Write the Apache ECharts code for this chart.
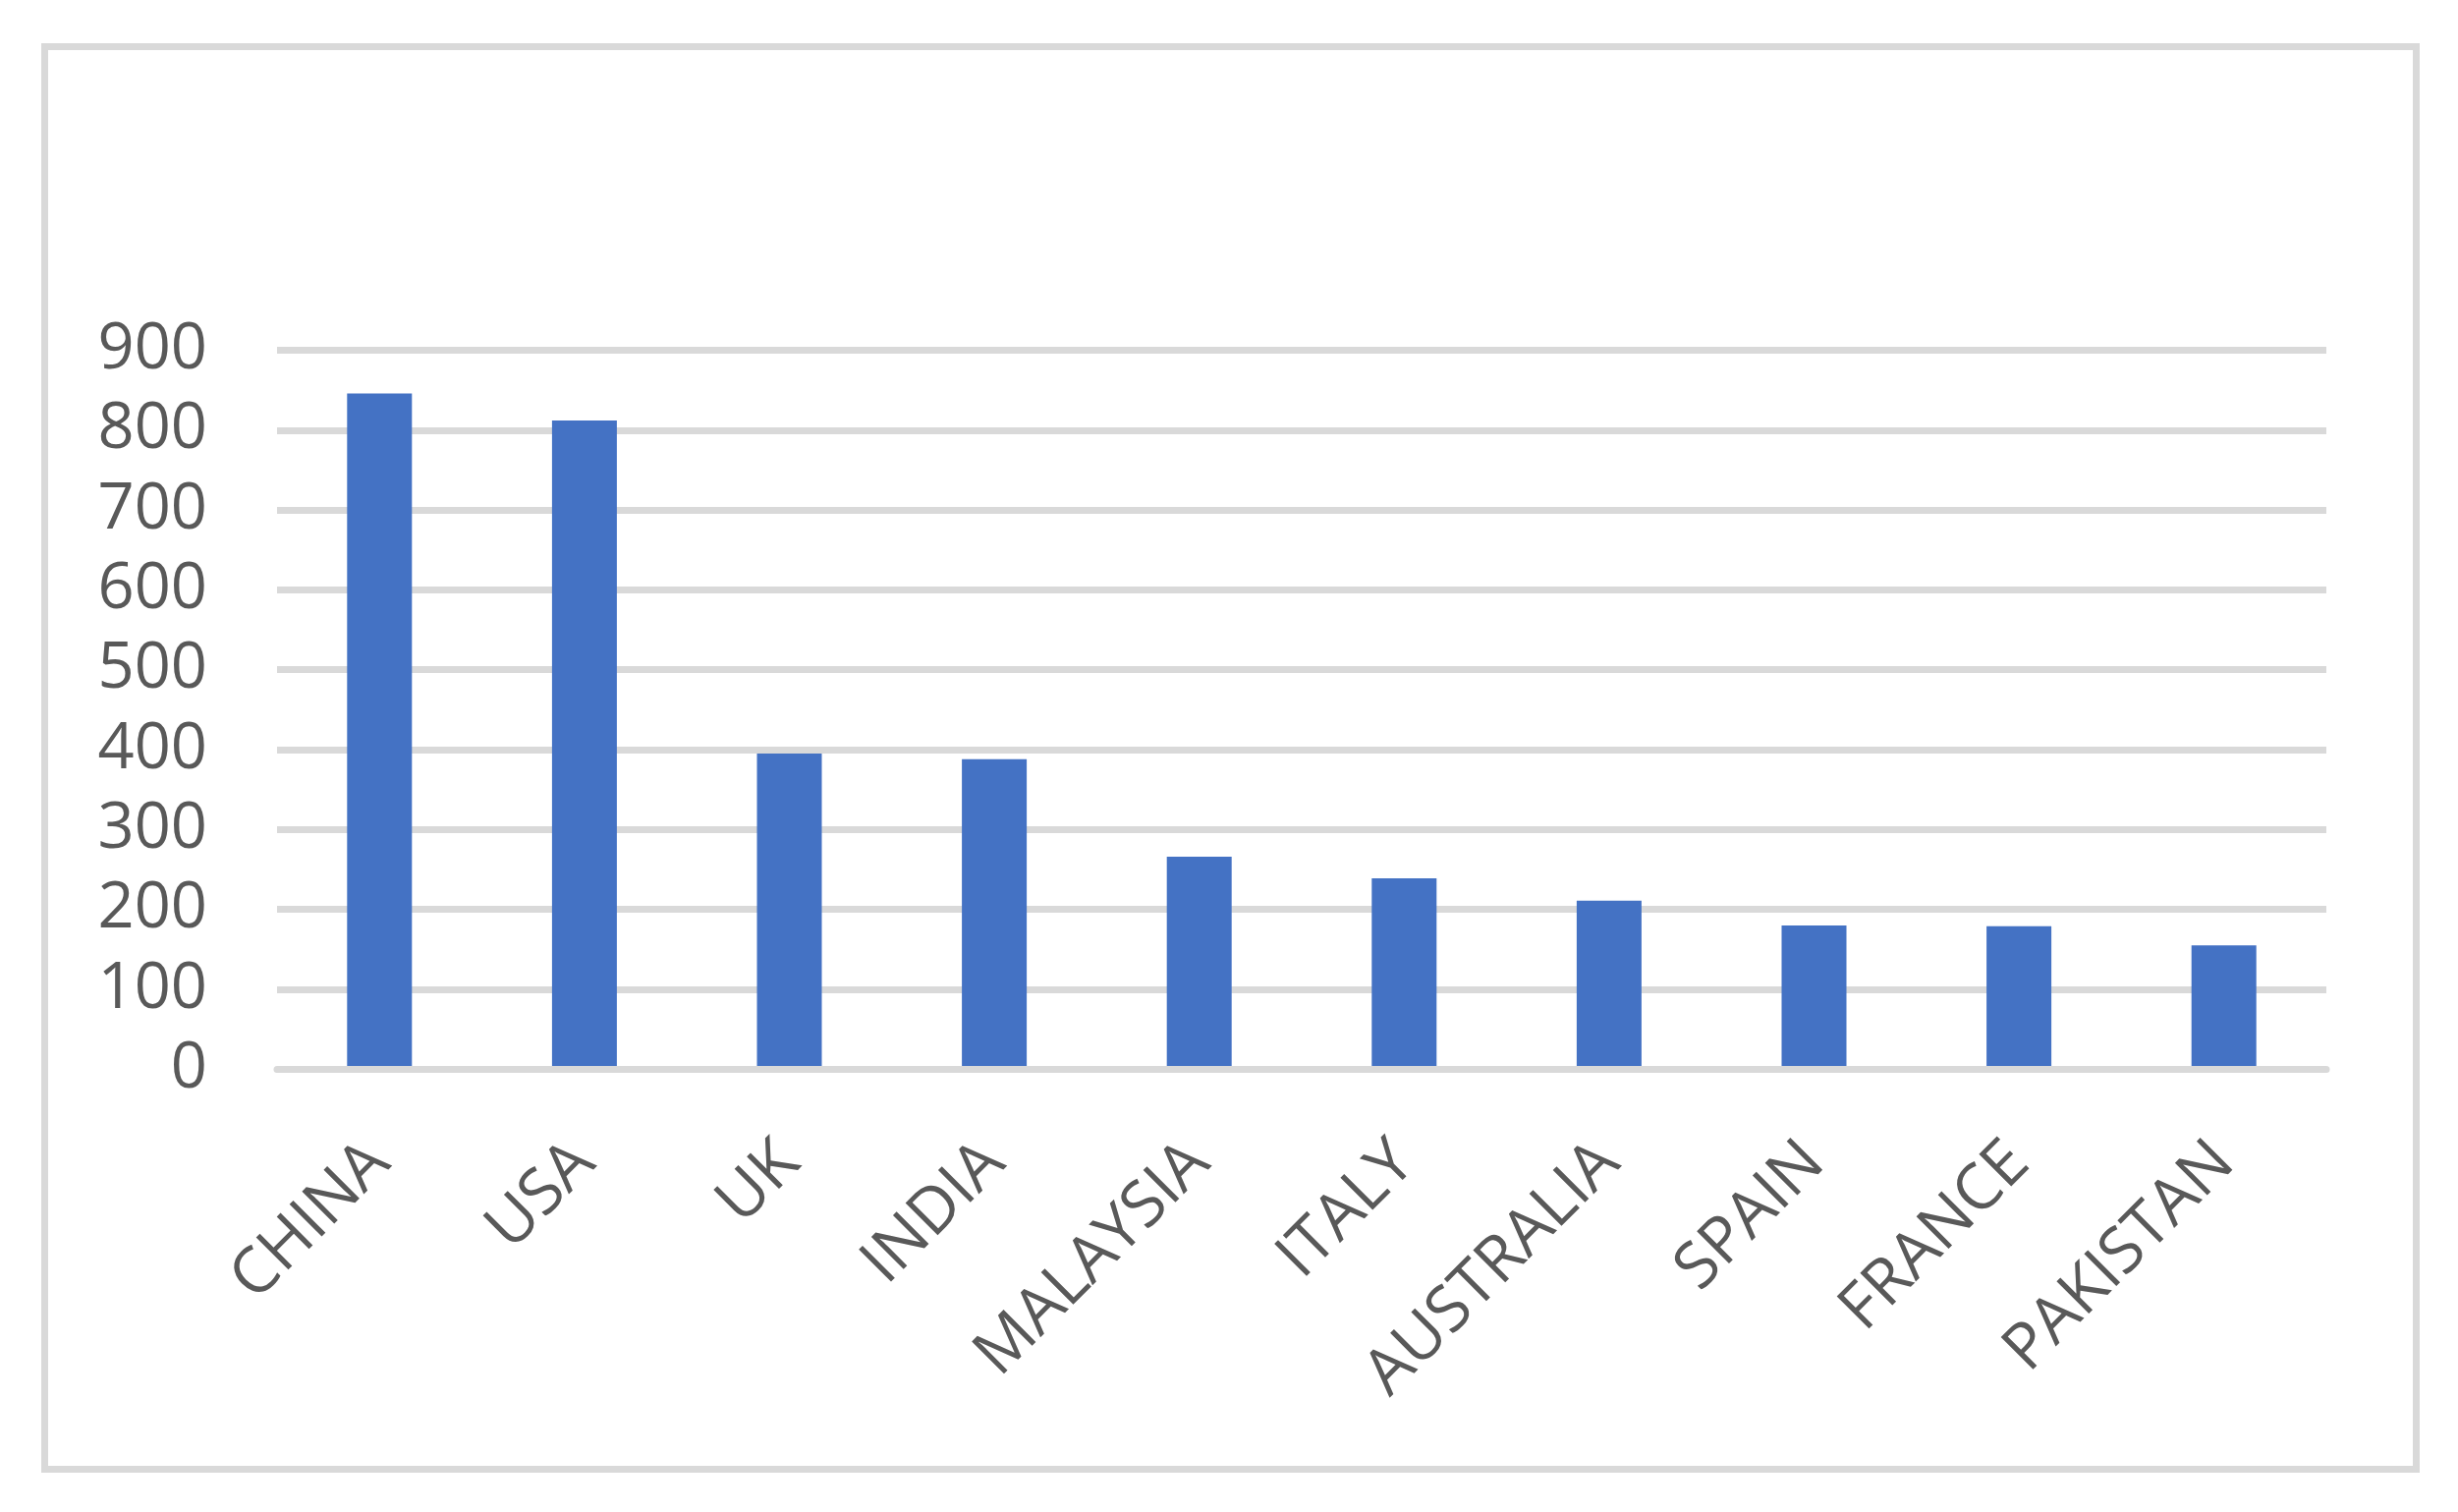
<!DOCTYPE html>
<html>
<head>
<meta charset="utf-8">
<script src="https://cdn.jsdelivr.net/npm/echarts@6/dist/echarts.min.js"></script>
<style>
  html, body { margin: 0; padding: 0; background: #ffffff; }
  #chart { width: 2502px; height: 1539px; }
</style>
</head>
<body>
<div id="chart"></div>
<script>
const categories = ['CHINA', 'USA', 'UK', 'INDIA', 'MALAYSIA', 'ITALY', 'AUSTRALIA', 'SPAIN', 'FRANCE', 'PAKISTAN'];
const values = [846, 812, 395, 388, 266, 239, 211, 180, 179, 155];
const yTicks = { min: 0, max: 900, interval: 100 };

const textColor = '#595959';
const gridColor = '#D9D9D9';
const fontFamily = '"Open Sans", "Noto Sans", sans-serif';

const chart = echarts.init(document.getElementById('chart'), null, { renderer: 'canvas' });
chart.setOption({
  animation: false,
  backgroundColor: '#ffffff',
  graphic: [{
    type: 'rect',
    shape: { x: 45.5, y: 47.5, width: 2414, height: 1448 },
    style: { fill: 'none', stroke: gridColor, lineWidth: 7 },
    silent: true,
    z: 0
  }],
  grid: { left: 282, right: 134, top: 356.5, bottom: 450.7, containLabel: false },
  xAxis: {
    type: 'category',
    data: categories,
    z: 5,
    axisLine: { show: true, lineStyle: { color: gridColor, width: 7 } },
    axisTick: { show: false },
    axisLabel: {
      rotate: 45,
      margin: 85,
      interval: 0,
      color: textColor,
      fontFamily: fontFamily,
      fontSize: 65,
      padding: [0, 0, 0, 0]
    }
  },
  yAxis: {
    type: 'value',
    min: yTicks.min,
    max: yTicks.max,
    interval: yTicks.interval,
    axisLine: { show: false },
    axisTick: { show: false },
    splitLine: { show: true, lineStyle: { color: gridColor, width: 7 } },
    axisLabel: {
      margin: 71,
      color: textColor,
      fontFamily: fontFamily,
      fontSize: 65
    }
  },
  series: [{
    type: 'bar',
    data: values,
    barWidth: 66,
    itemStyle: { color: '#4472C4' }
  }]
});
</script>
</body>
</html>
